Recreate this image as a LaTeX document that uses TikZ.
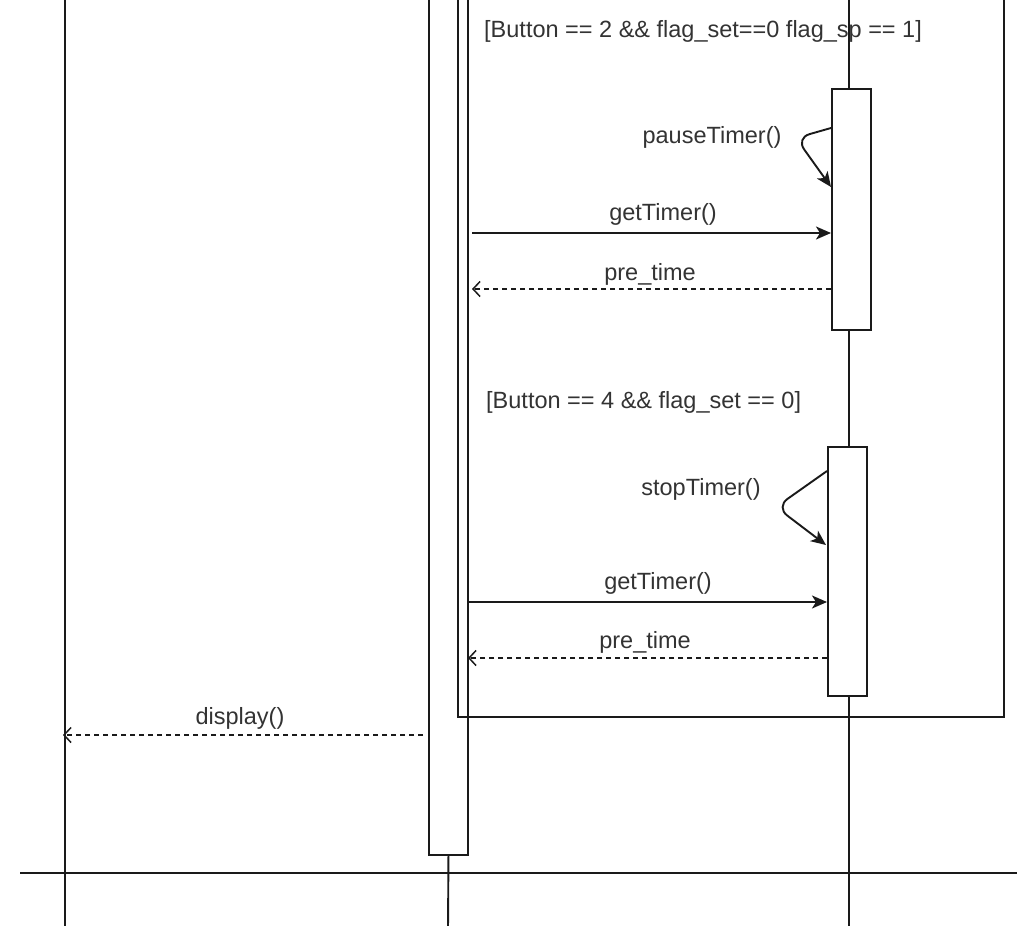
\documentclass[tikz,border=0pt]{standalone}
\usepackage{fontspec}
\setmainfont{Liberation Sans}
\usetikzlibrary{arrows.meta}
\definecolor{ink}{HTML}{1A1A1A}
\definecolor{txt}{HTML}{333333}
\tikzset{
  ln/.style={draw=ink, line width=1.9pt},
  actbox/.style={draw=ink, line width=1.9pt, fill=white, minimum width=39pt, inner sep=0pt, anchor=north west},
  lbl/.style={inner sep=0pt, text=txt, font=\fontsize{23.5}{27}\selectfont, anchor=base},
  msg/.style={ln, -{Stealth[length=15pt,width=13pt,inset=4pt]}},
  ret/.style={ln, line width=1.5pt, dash pattern=on 5pt off 4pt, -{Straight Barb[length=7pt,width=15pt]}},
  selfmsg/.style={ln, rounded corners=14pt, -{Stealth[length=15pt,width=13pt,inset=4pt]}}
}
\begin{document}
\begin{tikzpicture}[x=1pt,y=-1pt]
\useasboundingbox (0,0) rectangle (1017,926);
\clip (0,0) rectangle (1017,926);
% lifelines
\coordinate (LtopA) at (65,-5);
\coordinate (LbotA) at (65,930);
\draw[ln] (LtopA) -- (LbotA);
\coordinate (LtopC) at (849,-5);
\coordinate (LbotC) at (849,930);
\draw[ln] (LtopC) -- (LbotC);
% middle activation
\node[actbox, minimum height=864pt] (B) at (428,-10) {};
\coordinate (LbotB) at (448,930);
\draw[ln] (B.south) -- (LbotB);
% frame
\coordinate (F1) at (458,-10);
\coordinate (F2) at (458,717);
\coordinate (F3) at (1004,717);
\coordinate (F4) at (1004,-10);
\draw[ln] (F1) -- (F2) -- (F3) -- (F4);
% right activations
\node[actbox, minimum height=241pt] (C1) at (831,88) {};
\node[actbox, minimum height=249pt] (C2) at (827,446) {};
% bottom line
\coordinate (H1) at (20,873);
\coordinate (H2) at (1020,873);
\draw[ln] (H1) -- (H2);
% labels
\node[lbl, anchor=base west] (g1) at (484,37) {[Button == 2 \&\& flag\_set==0 flag\_sp == 1]};
\node[lbl] (m1) at (712,143) {pauseTimer()};
\node[lbl] (m2) at (663,220) {getTimer()};
\node[lbl] (m3) at (650,280) {pre\_time};
\node[lbl, anchor=base west] (g2) at (486,408) {[Button == 4 \&\& flag\_set == 0]};
\node[lbl] (m4) at (701,495) {stopTimer()};
\node[lbl] (m5) at (658,589) {getTimer()};
\node[lbl] (m6) at (645,648) {pre\_time};
\node[lbl] (m7) at (240,724) {display()};
% messages
\coordinate (s1a) at (831,128);
\coordinate (s1b) at (796,138);
\coordinate (s1c) at (831,187);
\draw[selfmsg] (s1a) -- (s1b) -- (s1c);
\coordinate (a1) at (472,233);
\coordinate (b1) at (831,233);
\draw[msg] (a1) -- (b1);
\coordinate (a2) at (831,289);
\coordinate (b2) at (472,289);
\draw[ret] (a2) -- (b2);
\coordinate (s2a) at (827,471);
\coordinate (s2b) at (776,507);
\coordinate (s2c) at (826,545);
\draw[selfmsg] (s2a) -- (s2b) -- (s2c);
\coordinate (a3) at (468,602);
\coordinate (b3) at (827,602);
\draw[msg] (a3) -- (b3);
\coordinate (a4) at (827,658);
\coordinate (b4) at (468,658);
\draw[ret] (a4) -- (b4);
\coordinate (a5) at (423,735);
\coordinate (b5) at (63,735);
\draw[ret] (a5) -- (b5);
\end{tikzpicture}
\end{document}
